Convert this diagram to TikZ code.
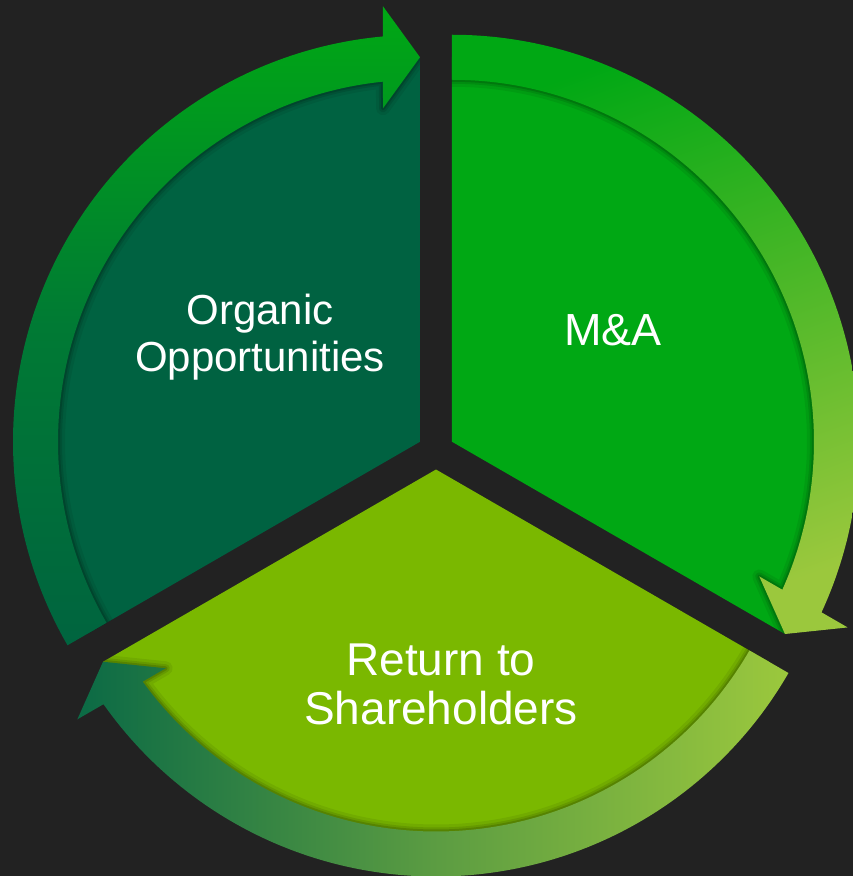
\documentclass[tikz,border=0pt]{standalone}
\usepackage{fontspec}
\setmainfont{Liberation Sans}
\usepackage{xcolor}
\usepackage{tikz}

\definecolor{bgdark}{HTML}{222222}
\definecolor{organicfill}{HTML}{006241}
\definecolor{mafill}{HTML}{00A814}
\definecolor{returnfill}{HTML}{7AB800}
\definecolor{ringdark}{HTML}{0B6A45}
\definecolor{ringlight}{HTML}{9BC83D}
\definecolor{organicmid}{HTML}{007A34}
\definecolor{organicbot}{HTML}{00643F}
\definecolor{returnmid}{HTML}{5B9C42}

\begin{document}
\begin{tikzpicture}[
  x=1pt, y=1pt,
  shadowa/.style={line width=14pt, draw=black, opacity=0.07, line join=round},
  shadowb/.style={line width=8pt, draw=black, opacity=0.1, line join=round},
  shadowc/.style={line width=4pt, draw=black, opacity=0.14, line join=round},
  organicring/.style={top color=mafill, bottom color=organicbot, middle color=organicmid},
  maring/.style={top color=mafill, bottom color=ringlight, shading angle=20},
  returnring/.style={left color=ringdark, right color=ringlight, middle color=returnmid},
  steplabel/.style={text=white, align=center, inner sep=0pt}
]

% Fond
\fill[bgdark] (-436,-425) rectangle (417,451);
\useasboundingbox (-436,-425) rectangle (417,451);

% Organic
\begin{scope}[shift={(-16,9.25)}]
  \fill[organicfill] (0,0) -- (210:384.5) arc[start angle=210, end angle=90, radius=384.5] -- cycle;
  \begin{scope}
    \clip (0,0) -- (210:384.5) arc[start angle=210, end angle=90, radius=384.5] -- cycle;
    \draw[shadowa] (210:407) arc[start angle=210, end angle=95.22, radius=407] -- (94.86:437.07) -- (90:384.5)
      -- (96.33:335.55) -- (95.87:362) arc[start angle=95.87, end angle=210, radius=362] -- cycle;
    \draw[shadowb] (210:407) arc[start angle=210, end angle=95.22, radius=407] -- (94.86:437.07) -- (90:384.5)
      -- (96.33:335.55) -- (95.87:362) arc[start angle=95.87, end angle=210, radius=362] -- cycle;
    \draw[shadowc] (210:407) arc[start angle=210, end angle=95.22, radius=407] -- (94.86:437.07) -- (90:384.5)
      -- (96.33:335.55) -- (95.87:362) arc[start angle=95.87, end angle=210, radius=362] -- cycle;
  \end{scope}
  \shade[organicring] (210:407) arc[start angle=210, end angle=95.22, radius=407] -- (94.86:437.07) -- (90:384.5)
    -- (96.33:335.55) -- (95.87:362) arc[start angle=95.87, end angle=210, radius=362] -- cycle;
\end{scope}

% M&A
\begin{scope}[shift={(16,9.25)}]
  \fill[mafill] (0,0) -- (90:384.5) arc[start angle=90, end angle=-30, radius=384.5] -- cycle;
  \begin{scope}
    \clip (0,0) -- (90:384.5) arc[start angle=90, end angle=-30, radius=384.5] -- cycle;
    \draw[shadowa] (90:407) arc[start angle=90, end angle=-24.78, radius=407] -- (-25.14:437.07) -- (-30:384.5)
      -- (-23.67:335.55) -- (-24.13:362) arc[start angle=-24.13, end angle=90, radius=362] -- cycle;
    \draw[shadowb] (90:407) arc[start angle=90, end angle=-24.78, radius=407] -- (-25.14:437.07) -- (-30:384.5)
      -- (-23.67:335.55) -- (-24.13:362) arc[start angle=-24.13, end angle=90, radius=362] -- cycle;
    \draw[shadowc] (90:407) arc[start angle=90, end angle=-24.78, radius=407] -- (-25.14:437.07) -- (-30:384.5)
      -- (-23.67:335.55) -- (-24.13:362) arc[start angle=-24.13, end angle=90, radius=362] -- cycle;
  \end{scope}
  \shade[maring] (90:407) arc[start angle=90, end angle=-24.78, radius=407] -- (-25.14:437.07) -- (-30:384.5)
    -- (-23.67:335.55) -- (-24.13:362) arc[start angle=-24.13, end angle=90, radius=362] -- cycle;
\end{scope}

% Return
\begin{scope}[shift={(0,-18.5)}]
  \fill[returnfill] (0,0) -- (-30:384.5) arc[start angle=-30, end angle=-150, radius=384.5] -- cycle;
  \begin{scope}
    \clip (0,0) -- (-30:384.5) arc[start angle=-30, end angle=-150, radius=384.5] -- cycle;
    \draw[shadowa] (-30:407) arc[start angle=-30, end angle=-144.78, radius=407] -- (-145.14:437.07) -- (-150:384.5)
      -- (-143.67:335.55) -- (-144.13:362) arc[start angle=-144.13, end angle=-30, radius=362] -- cycle;
    \draw[shadowb] (-30:407) arc[start angle=-30, end angle=-144.78, radius=407] -- (-145.14:437.07) -- (-150:384.5)
      -- (-143.67:335.55) -- (-144.13:362) arc[start angle=-144.13, end angle=-30, radius=362] -- cycle;
    \draw[shadowc] (-30:407) arc[start angle=-30, end angle=-144.78, radius=407] -- (-145.14:437.07) -- (-150:384.5)
      -- (-143.67:335.55) -- (-144.13:362) arc[start angle=-144.13, end angle=-30, radius=362] -- cycle;
  \end{scope}
  \shade[returnring] (-30:407) arc[start angle=-30, end angle=-144.78, radius=407] -- (-145.14:437.07) -- (-150:384.5)
    -- (-143.67:335.55) -- (-144.13:362) arc[start angle=-144.13, end angle=-30, radius=362] -- cycle;
\end{scope}

% Textes
\node[steplabel, font=\fontsize{42}{47}\selectfont] (organic) at (-176,113.5) {Organic\\Opportunities};
\node[steplabel, font=\fontsize{45}{50}\selectfont] (ma) at (177,120.5) {M\&A};
\node[steplabel, font=\fontsize{46}{49}\selectfont] (return) at (5,-233) {Return to\\Shareholders};

\end{tikzpicture}
\end{document}
